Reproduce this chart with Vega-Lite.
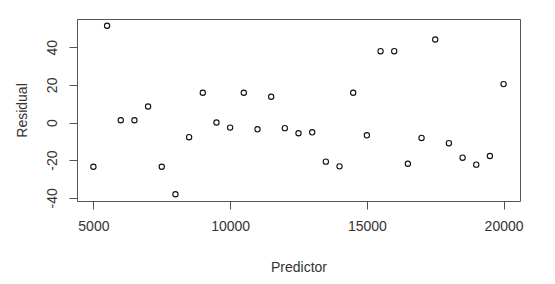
{
  "$schema": "https://vega.github.io/schema/vega-lite/v6.json",
  "width": 443,
  "height": 182,
  "autosize": {"type": "none"},
  "padding": {"left": 77, "top": 19, "right": 35, "bottom": 83},
  "background": "white",
  "config": {
    "view": {"stroke": "#555555", "strokeWidth": 1},
    "font": "Liberation Sans",
    "axis": {
      "grid": false,
      "domain": false,
      "tickColor": "#555555",
      "tickSize": 8,
      "labelFont": "Liberation Sans",
      "labelFontSize": 14,
      "labelColor": "#333333",
      "titleFont": "Liberation Sans",
      "titleFontSize": 14,
      "titleFontWeight": "normal",
      "titleColor": "#333333"
    }
  },
  "data": {
    "values": [
      {"Predictor": 5000, "Residual": -23.5},
      {"Predictor": 5500, "Residual": 51.4},
      {"Predictor": 6000, "Residual": 1.2},
      {"Predictor": 6500, "Residual": 1.2},
      {"Predictor": 7000, "Residual": 8.5},
      {"Predictor": 7500, "Residual": -23.5},
      {"Predictor": 8000, "Residual": -38.1},
      {"Predictor": 8500, "Residual": -7.8},
      {"Predictor": 9000, "Residual": 15.8},
      {"Predictor": 9500, "Residual": 0.0},
      {"Predictor": 10000, "Residual": -2.7},
      {"Predictor": 10500, "Residual": 15.8},
      {"Predictor": 11000, "Residual": -3.6},
      {"Predictor": 11500, "Residual": 13.7},
      {"Predictor": 12000, "Residual": -3.0},
      {"Predictor": 12500, "Residual": -5.7},
      {"Predictor": 13000, "Residual": -5.2},
      {"Predictor": 13500, "Residual": -20.8},
      {"Predictor": 14000, "Residual": -23.3},
      {"Predictor": 14500, "Residual": 15.8},
      {"Predictor": 15000, "Residual": -6.8},
      {"Predictor": 15500, "Residual": 37.9},
      {"Predictor": 16000, "Residual": 37.9},
      {"Predictor": 16500, "Residual": -21.9},
      {"Predictor": 17000, "Residual": -8.2},
      {"Predictor": 17500, "Residual": 44.1},
      {"Predictor": 18000, "Residual": -11.0},
      {"Predictor": 18500, "Residual": -18.7},
      {"Predictor": 19000, "Residual": -22.4},
      {"Predictor": 19500, "Residual": -17.8},
      {"Predictor": 20000, "Residual": 20.4}
    ]
  },
  "mark": {"type": "point", "shape": "circle", "filled": false, "color": "#111111", "strokeWidth": 1.1, "size": 28, "opacity": 1},
  "encoding": {
    "x": {
      "field": "Predictor",
      "type": "quantitative",
      "scale": {"domain": [4400, 20600], "nice": false, "zero": false},
      "axis": {"values": [5000, 10000, 15000, 20000], "labelExpr": "'' + datum.value", "labelPadding": 10, "labelBaseline": "top", "title": "Predictor", "titlePadding": 27}
    },
    "y": {
      "field": "Residual",
      "type": "quantitative",
      "scale": {"domain": [-41.7, 55.0], "nice": false, "zero": false},
      "axis": {"values": [-40, -20, 0, 20, 40], "labelExpr": "'' + datum.value", "labelAngle": 270, "labelAlign": "center", "labelBaseline": "alphabetic", "labelPadding": 13, "title": "Residual", "titlePadding": 16}
    }
  }
}
